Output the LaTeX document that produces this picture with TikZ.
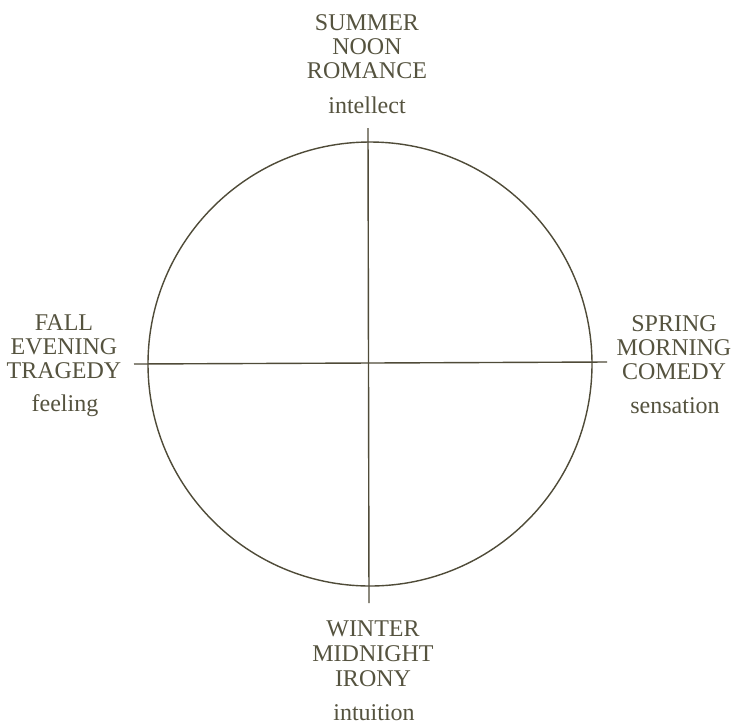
\documentclass[tikz,border=0pt]{standalone}
\usepackage{fontspec}
\setmainfont{Liberation Serif}
\begin{document}
\begin{tikzpicture}[x=1pt,y=-1pt,
  ink/.style={draw=inkc, line width=1.4pt},
  lbl/.style={anchor=base, inner sep=0pt, text=txtc, font=\fontsize{24}{25}\selectfont}]
\definecolor{inkc}{HTML}{4F4B38}
\definecolor{txtc}{HTML}{55533F}
\useasboundingbox[fill=white] (0,0) rectangle (739,724);
% circle and axes
\node[ink, circle, minimum size=444pt, inner sep=0pt] (c) at (370,364) {};
\coordinate (vt) at (368,128);
\coordinate (vb) at (369,603);
\coordinate (hl) at (134,364);
\coordinate (hr) at (607,362);
\draw[ink] (vt) -- (vb);
\draw[ink] (hl) -- (hr);
% top
\node[lbl] (t1) at (367,30) {SUMMER};
\node[lbl] (t2) at (367,54) {NOON};
\node[lbl] (t3) at (367,78) {ROMANCE};
\node[lbl] (t4) at (367,113) {intellect};
% left
\node[lbl] (l1) at (64,330) {FALL};
\node[lbl] (l2) at (64,354) {EVENING};
\node[lbl] (l3) at (64,378) {TRAGEDY};
\node[lbl] (l4) at (65,411) {feeling};
% right
\node[lbl] (r1) at (674,331) {SPRING};
\node[lbl] (r2) at (674,355) {MORNING};
\node[lbl] (r3) at (674,379) {COMEDY};
\node[lbl] (r4) at (675,413) {sensation};
% bottom
\node[lbl] (b1) at (373,636) {WINTER};
\node[lbl] (b2) at (373,661) {MIDNIGHT};
\node[lbl] (b3) at (373,686) {IRONY};
\node[lbl] (b4) at (374,720) {intuition};
\end{tikzpicture}
\end{document}
